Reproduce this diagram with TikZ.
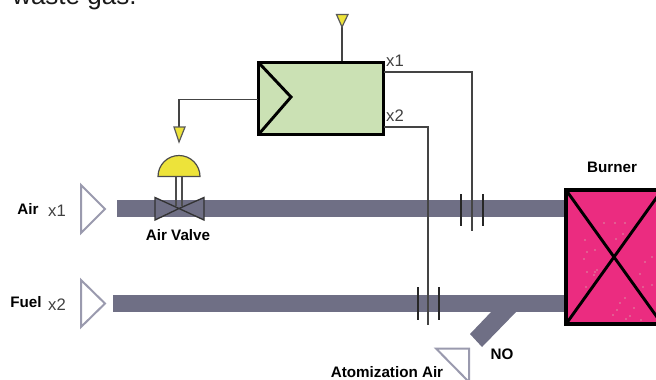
\documentclass[tikz,border=0pt]{standalone}
\usepackage{fontspec}
\setmainfont{Liberation Sans}
\definecolor{pipegray}{HTML}{6F6F85}
\definecolor{tripale}{HTML}{9A9AAE}
\definecolor{boxgreen}{HTML}{CBE1B4}
\definecolor{burnerpink}{HTML}{EB2C80}
\definecolor{sigyellow}{HTML}{EDE33A}
\definecolor{wiregray}{HTML}{444444}
\tikzset{
  x=0.75pt,y=-0.75pt,
  pipe/.style={fill=pipegray,draw=none},
  wire/.style={draw=wiregray,line width=1.35pt},
  tick/.style={draw=black!85,line width=1.5pt},
  inlet/.style={draw=tripale,line width=1.5pt,fill=white,line join=miter},
  lab/.style={font=\fontsize{11.4}{13}\selectfont\bfseries,inner sep=0pt,text=black},
  tag/.style={font=\fontsize{12.5}{14}\selectfont,inner sep=0pt,text=black!75},
  sigtip/.style={fill=sigyellow,draw=gray!70!black,line width=0.9pt},
  dot/.style={fill=white!80!green,draw=none}
}
\begin{document}
\begin{tikzpicture}
\useasboundingbox (0,0) rectangle (656,379);
\begin{scope}
\clip (0,0) rectangle (656,379);
\node[anchor=base west,inner sep=0pt,font=\fontsize{19.5}{22}\selectfont,text=black!90] (head) at (12,4.5) {waste gas.};
% pipes
\fill[pipe] (117,200) rectangle (566,217);
\fill[pipe] (113,295) rectangle (566,312);
\fill[pipe] (492,311) -- (517,311) -- (482,347) -- (470,334) -- cycle;
% burner
\node[draw=black,line width=2.3pt,fill=burnerpink,minimum width=96*0.75pt,minimum height=134*0.75pt,inner sep=0pt,outer sep=0pt,anchor=north west] (burner) at (566,190) {};
\draw[black,line width=2.2pt] (burner.north west) -- (burner.south east) (burner.south west) -- (burner.north east);
\foreach \px/\py in {604/223,615/223,625/223,585/240,616/239,623/234,587/252,595/250,584/259,587/272,595/272,597/270,652/257,640/274,586/287,645/262,643/287,652/285,625/298,620/303,634/308,617/310,613/315,630/316,626/319,641/320,594/275}
  \fill[dot] (\px,\py) circle[radius=0.6];
% controller
\node[draw=black,line width=2.3pt,fill=boxgreen,minimum width=125*0.75pt,minimum height=72*0.75pt,inner sep=0pt,outer sep=0pt,anchor=north west] (ctrl) at (258.5,62.5) {};
\draw[black,line width=2.2pt] (ctrl.north west) -- (291,97) -- (ctrl.south west);
% top signal
\coordinate (toptip) at (342,27);
\coordinate (topA) at (342,61);
\draw[wire] (topA) -- (toptip);
\draw[sigtip] (336.5,14.5) -- (348,14.5) -- (342,27) -- cycle;
% signal to valve
\coordinate (ctrlW) at (258,99.5);
\coordinate (vtip) at (179,127);
\draw[wire] (ctrlW) -| (vtip);
\draw[sigtip] (174,127) -- (185,127) -- (179,142) -- cycle;
% dome and valve
\draw[draw=gray!60!black,line width=0.8pt] (176,176) -- (176,206) (182,176) -- (182,206);
\draw[fill=sigyellow,draw=gray!60!black,line width=0.9pt] (158,176.5) arc[start angle=180,end angle=360,radius=21] -- cycle;
\draw[fill=pipegray,draw=black!80,line width=1pt,line join=miter] (155,197.5) -- (179,208.5) -- (155,220) -- cycle;
\draw[fill=pipegray,draw=black!80,line width=1pt,line join=miter] (204,197.5) -- (179,208.5) -- (204,220) -- cycle;
% outputs
\coordinate (x1start) at (384,72);
\coordinate (x1end) at (472,231);
\coordinate (x2start) at (384,127);
\coordinate (x2end) at (428,325);
\draw[wire] (x1start) -| (x1end);
\draw[wire] (x2start) -| (x2end);
\draw[tick] (461,194) -- (461,226) (483,194) -- (483,226);
\draw[tick] (418,287) -- (418,320) (439,287) -- (439,320);
% inlets
\draw[inlet] (81,185) -- (105,209) -- (81,233) -- cycle;
\draw[inlet] (81,280) -- (105,303.5) -- (81,327) -- cycle;
\draw[inlet] (436,348.5) -- (469,348.5) -- (469,382) -- cycle;
% labels
\node[lab] (lair) at (28,209) {Air};
\node[tag] (tx1) at (57,210.5) {x1};
\node[lab] (lfuel) at (26,302) {Fuel};
\node[tag] (tx2) at (57,305) {x2};
\node[lab] (lvalve) at (178,235) {Air Valve};
\node[lab] (lburn) at (612,167) {Burner};
\node[lab] (lno) at (502,354) {NO};
\node[lab] (latom) at (387,372) {Atomization Air};
\node[tag] (cx1) at (395,61) {x1};
\node[tag] (cx2) at (395,115.5) {x2};
\end{scope}
\end{tikzpicture}
\end{document}
